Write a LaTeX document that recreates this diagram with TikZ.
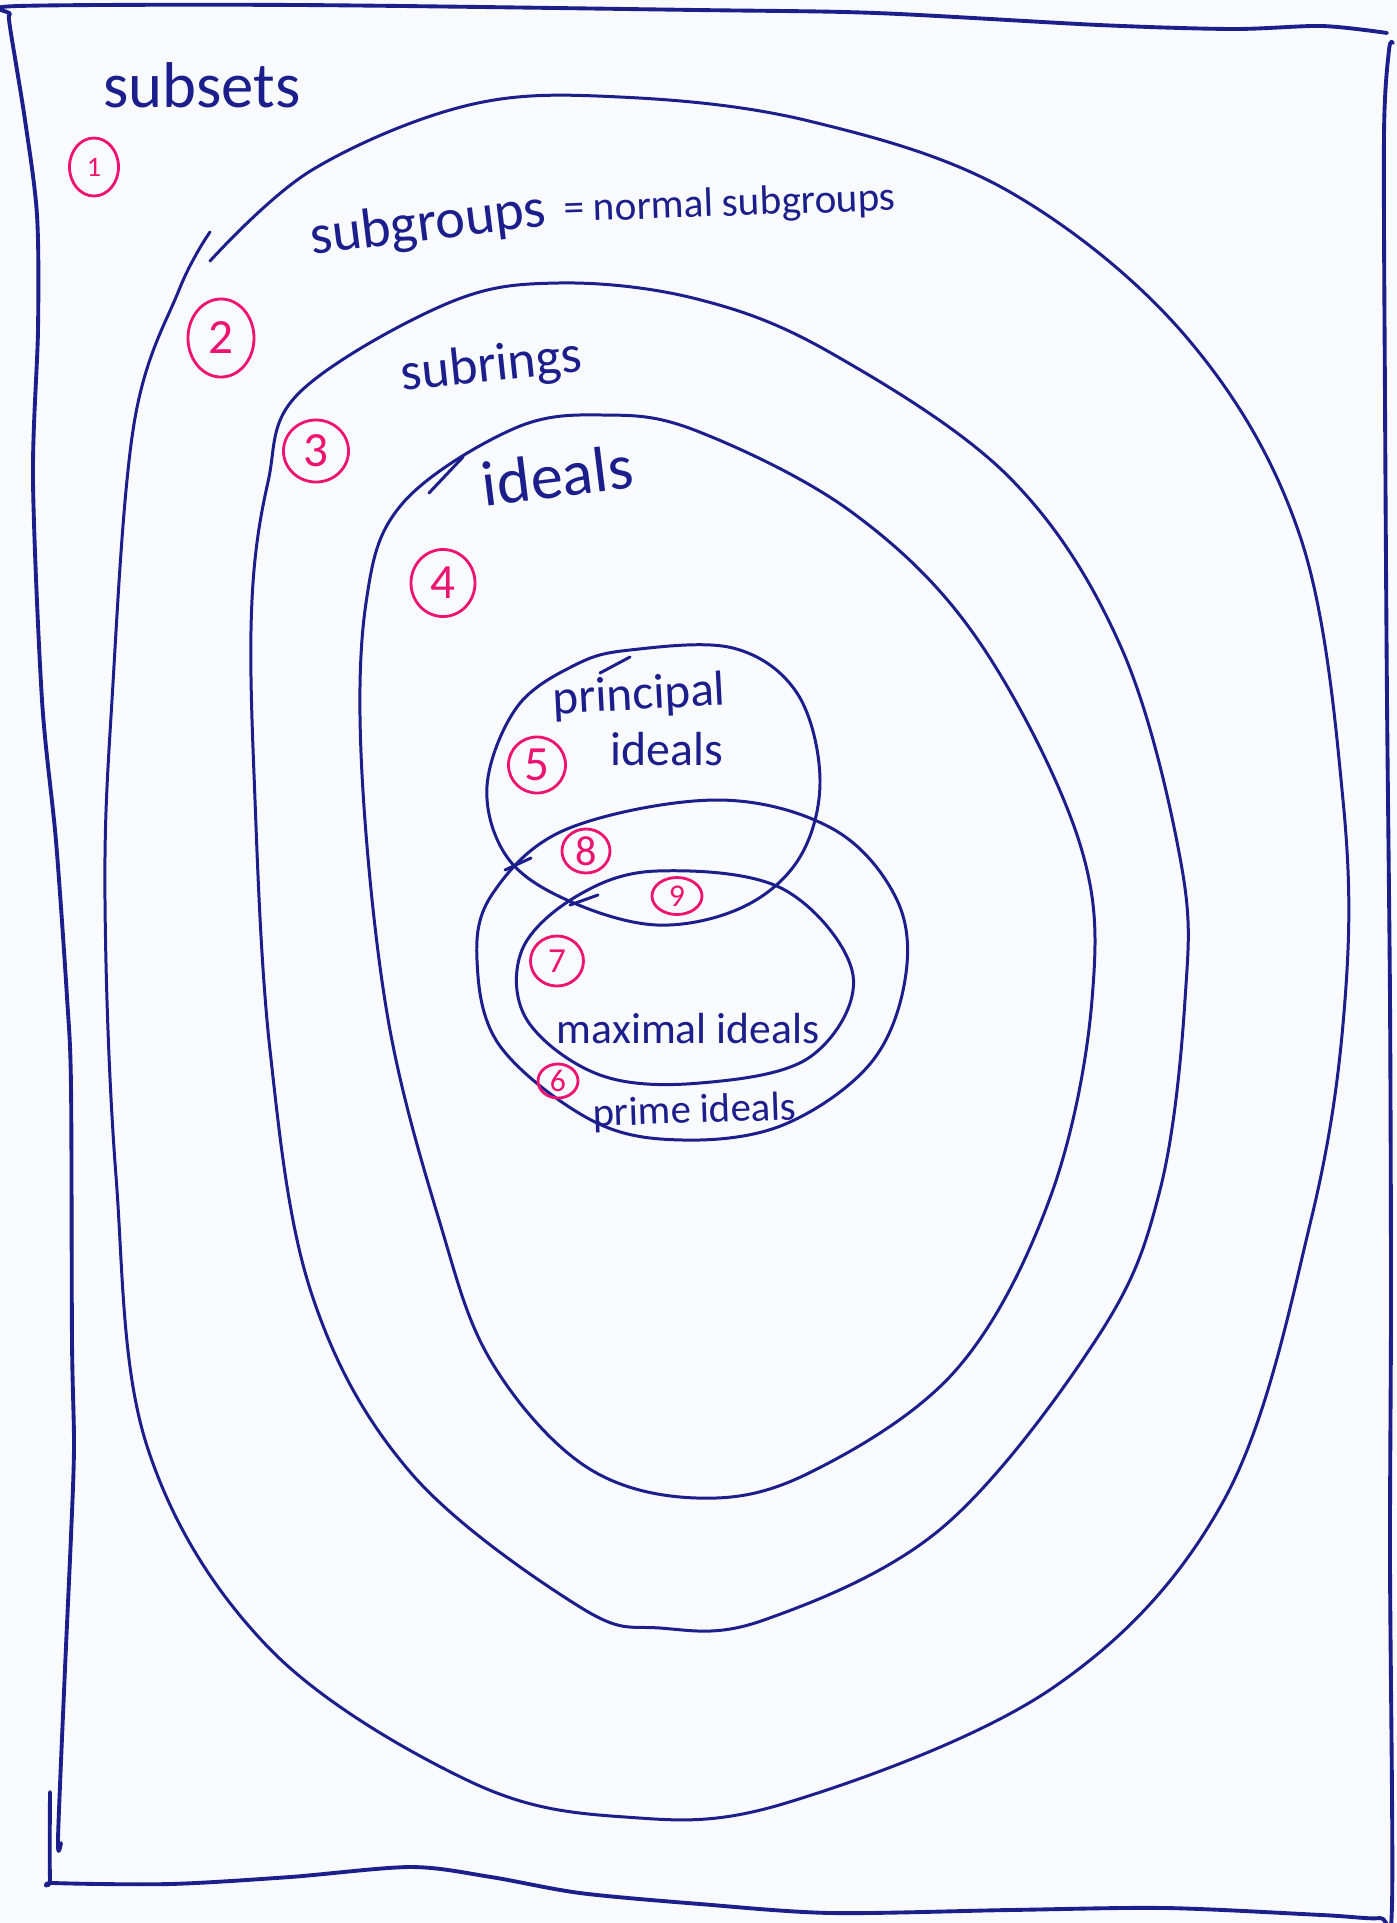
\documentclass[tikz,border=0pt]{standalone}
\usepackage{fontspec}
\setmainfont{Carlito}
\usetikzlibrary{shapes.geometric}

\definecolor{ink}{RGB}{28,30,140}
\definecolor{tagpink}{RGB}{236,20,112}
\definecolor{paper}{RGB}{248,250,253}

\begin{document}
\begin{tikzpicture}[
        x=0.01cm, y=-0.01cm,
        frame_line/.style={draw=ink, line width=1.1pt, line cap=round, line join=round},
        set_line/.style={draw=ink, line width=0.85pt, line cap=round, line join=round},
        set_name/.style={text=ink, inner sep=0pt, anchor=base},
        region_tag/.style={ellipse, draw=tagpink, line width=0.8pt, text=tagpink, inner sep=0pt}
    ]
        % Paper
        \useasboundingbox (0,0) rectangle (1397,1923);
        \fill[paper] (0,0) rectangle (1397,1923);

        % Frame: top and left edge
        \draw[frame_line] plot[smooth, tension=0.5] coordinates {(1387,33) (1322,26) (1233,29) (1099,25) (876,13) (697,10) (300,5) (18,6) (10,14) (10,27) (25,120) (37,215) (38,330) (33,480) (42,700) (56,841) (67,997) (71,1086) (72,1340) (74,1446) (71,1536) (65,1669) (58,1839) (61,1843)};
        % Frame: bottom and right edge
        \draw[frame_line] plot[smooth, tension=0.5] coordinates {(50,1792) (50,1879) (54,1883) (170,1884) (290,1877) (411,1867) (491,1877) (580,1893) (700,1904) (831,1913) (1010,1910) (1166,1908) (1322,1915) (1380,1918) (1392,1905) (1390,1558) (1391,1300) (1390,1000) (1387,700) (1385,400) (1384,134) (1389,50) (1393,43)};

        % Subgroups (open at the top left)
        \draw[set_line] plot[smooth, tension=0.6] coordinates {(210,261) (312,170) (469,105) (620,97) (809,121) (1010,192) (1188,339) (1300,536) (1343,800) (1345,1000) (1311,1220) (1224,1500) (1054,1687) (786,1803) (625,1817) (469,1781) (268,1647) (147,1446) (116,1176) (105,900) (112,700) (134,424) (179,290) (210,232)};

        % Subrings
        \draw[set_line] plot[smooth cycle, tension=0.6] coordinates {(299,393) (446,304) (558,283) (697,299) (831,353) (1010,478) (1121,647) (1181,863) (1185,1000) (1160,1190) (1099,1335) (943,1527) (764,1620) (660,1628) (580,1607) (411,1473) (312,1295) (270,1050) (254,774) (252,600) (268,482)};

        % Ideals
        \draw[set_line] plot[smooth cycle, tension=0.6] coordinates {(402,504) (513,429) (603,415) (697,431) (853,513) (978,640) (1079,841) (1092,1000) (1050,1198) (956,1370) (809,1473) (697,1498) (585,1466) (491,1361) (440,1223) (388,1019) (362,774) (366,603)};
        \draw[set_line] (429,493) -- (463,457);

        % Principal ideals
        \draw[set_line] plot[smooth cycle, tension=0.6] coordinates {(630,650) (733,648) (797,693) (820,779) (800,857) (743,907) (657,925) (567,900) (507,857) (487,786) (517,707) (575,665)};
        \draw[set_line] (600,673) -- (630,657);

        % Prime ideals
        \draw[set_line] plot[smooth cycle, tension=0.6] coordinates {(717,800) (833,829) (897,900) (905,980) (870,1064) (783,1125) (683,1140) (593,1121) (500,1046) (477,960) (493,893) (567,829)};
        \draw[set_line] (505,870) -- (531,858);

        % Maximal ideals
        \draw[set_line] plot[smooth cycle, tension=0.6] coordinates {(657,871) (783,889) (853,975) (810,1057) (700,1083) (600,1075) (527,1020) (522,950) (577,896)};
        \draw[set_line] (570,905) -- (598,895);

        % Set names
        \node[set_name, font=\fontsize{18.4}{20}\selectfont] (subsets_name) at (202,107) {subsets};
        \node[set_name, font=\fontsize{16}{18}\selectfont, rotate=7] (subgroups_name) at (430,240) {subgroups};
        \node[set_name, font=\fontsize{11.7}{14}\selectfont, rotate=2] (normal_name) at (730,216) {= normal subgroups};
        \node[set_name, font=\fontsize{15.2}{17}\selectfont, rotate=6] (subrings_name) at (493,381) {subrings};
        \node[set_name, font=\fontsize{18.3}{20}\selectfont, rotate=7] (ideals_name) at (560,497) {ideals};
        \node[set_name, anchor=base east, font=\fontsize{14}{16}\selectfont, rotate=3] (principal_name) at (727,705) {principal};
        \node[set_name, anchor=base east, font=\fontsize{13.6}{16}\selectfont] (principal_name2) at (724,765) {ideals};
        \node[set_name, font=\fontsize{12.4}{14}\selectfont] (maximal_name) at (688,1043) {maximal ideals};
        \node[set_name, font=\fontsize{11.6}{14}\selectfont, rotate=2] (prime_name) at (695,1123) {prime ideals};

        % Region numbers (number/x/y/width mm/height mm/font size)
        \foreach \n/\px/\py/\w/\h/\fs in {1/94/167/4.9/5.8/8, 2/221/338/6.6/7.8/14, 3/316/451/6.5/6.2/14, 4/443/583/6.4/6.7/14, 5/537/765/5.7/5.6/14, 8/586/851/4.8/4.4/12, 9/677/896/5.0/3.7/9, 7/557/961/5.3/5.0/10, 6/558/1081/4.0/3.4/9} {
            \node[region_tag, minimum width=\w mm, minimum height=\h mm, font=\fontsize{\fs}{\fs}\selectfont] (tag\n) at (\px,\py) {\n};
        }

\end{tikzpicture}
\end{document}
